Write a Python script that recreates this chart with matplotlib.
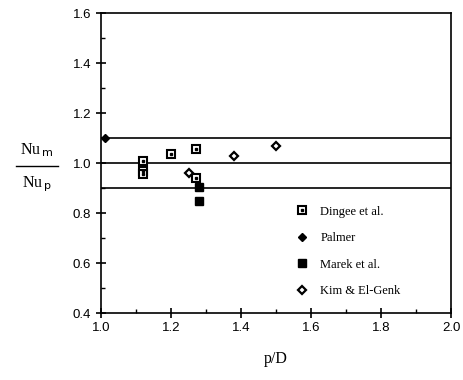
import numpy as np
import matplotlib
matplotlib.use("Agg")
import matplotlib.pyplot as plt
from matplotlib.ticker import MultipleLocator

# values
dingee_x = [1.12, 1.12, 1.12, 1.20, 1.27, 1.27]
dingee_y = [1.01, 0.97, 0.955, 1.035, 1.055, 0.94]
palmer_x = [1.01]
palmer_y = [1.10]
marek_x = [1.28, 1.28]
marek_y = [0.905, 0.85]
kim_x = [1.25, 1.38, 1.50]
kim_y = [0.96, 1.03, 1.07]
ref_lines = [1.1, 1.0, 0.9]
x_ticks = [1.0, 1.2, 1.4, 1.6, 1.8, 2.0]
y_ticks = [0.4, 0.6, 0.8, 1.0, 1.2, 1.4, 1.6]

serif = "Liberation Serif"
sans = "Liberation Sans"

fig = plt.figure(figsize=(4.63, 3.80), dpi=100)
ax = fig.add_axes([101 / 463, 1 - 313 / 380, 350 / 463, 300 / 380])

for yv in ref_lines:
    ax.axhline(yv, color="black", lw=1.2)

ms = 5.5
sq, = ax.plot(dingee_x, dingee_y, "s", ms=ms, mfc="white", mec="black", mew=1.5, ls="none")
sqd, = ax.plot(dingee_x, dingee_y, "s", ms=1.5, color="black", ls="none")
pal, = ax.plot(palmer_x, palmer_y, "D", ms=4.5, color="black", ls="none")
mar, = ax.plot(marek_x, marek_y, "s", ms=ms, color="black", ls="none")
kim, = ax.plot(kim_x, kim_y, "D", ms=4, mfc="white", mec="black", mew=1.6, ls="none")

ax.set_xticks(x_ticks)
ax.set_xticklabels(["%.1f" % v for v in x_ticks], fontfamily=sans)
ax.set_yticks(y_ticks)
ax.set_yticklabels(["%.1f" % v for v in y_ticks], fontfamily=sans)
ax.xaxis.set_minor_locator(MultipleLocator(0.1))
ax.yaxis.set_minor_locator(MultipleLocator(0.1))
ax.set_xlim(1.0, 2.0)
ax.set_ylim(0.4, 1.6)
ax.tick_params(which="major", direction="inout", length=7, width=1.2, labelsize=9.5)
ax.tick_params(which="minor", direction="in", length=3, width=1)
ax.tick_params(axis="x", pad=3)
for s in ax.spines.values():
    s.set_linewidth(1.2)

ax.set_xlabel("p/D", fontfamily=serif, fontsize=11.5, labelpad=12)

# y label as a stacked fraction
fig.text(37 / 463, 1 - 150 / 380, r"Nu$_{\,\mathrm{m}}$", fontfamily=serif, fontsize=11.5,
         ha="center", va="center")
fig.text(37 / 463, 1 - 184 / 380, r"Nu$_{\,\mathrm{p}}$", fontfamily=serif, fontsize=11.5,
         ha="center", va="center")
fig.add_artist(plt.Line2D([16 / 463, 58 / 463], [1 - 166 / 380, 1 - 166 / 380],
                          color="black", lw=1))

leg = ax.legend([(sq, sqd), pal, mar, kim],
                ["Dingee et al.", "Palmer", "Marek et al.", "Kim & El-Genk"],
                loc="upper left", bbox_to_anchor=(0.52, 0.395), frameon=False,
                prop={"family": serif, "size": 9}, labelspacing=1.15,
                handlelength=1.2, handletextpad=0.9, numpoints=1)

fig.savefig("out.png", dpi=100)
